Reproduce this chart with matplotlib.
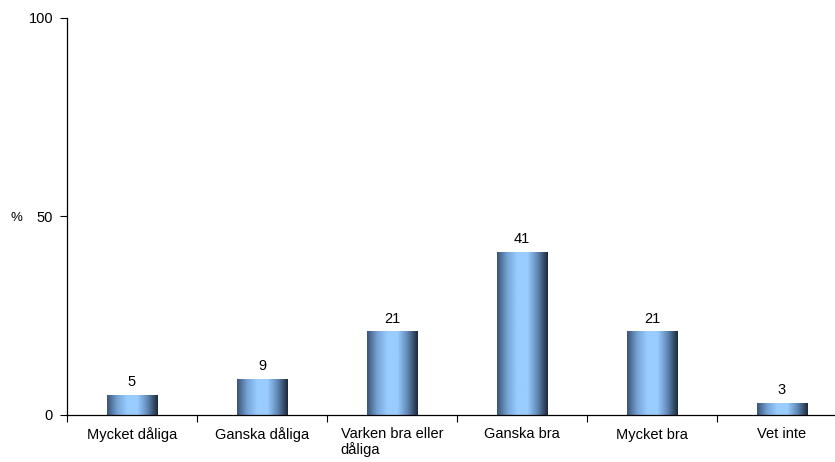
import numpy as np
import matplotlib.pyplot as plt
from matplotlib.colors import LinearSegmentedColormap

plt.rcParams['font.family'] = ['Liberation Sans', 'DejaVu Sans']

categories = ['Mycket dåliga', 'Ganska dåliga', 'Varken bra eller\ndåliga',
              'Ganska bra', 'Mycket bra', 'Vet inte']
values = [5, 9, 21, 41, 21, 3]

fs = 10.5

fig = plt.figure(figsize=(8.35, 4.62), dpi=100)
ax = fig.add_axes([67 / 835, 1 - 415 / 462, 780 / 835, 397 / 462])

# horizontal gradient: dark edges, light blue middle
cmap = LinearSegmentedColormap.from_list(
    'bar', ['#3a5274', '#76a3d6', '#99ccff', '#99ccff', '#5f86b4', '#1c2838'])
grad = np.linspace(0, 1, 256).reshape(1, -1)

x = np.arange(len(categories))
width = 0.39
for xi, v in zip(x, values):
    ax.imshow(grad, cmap=cmap, aspect='auto', interpolation='bilinear',
              extent=(xi - width / 2, xi + width / 2, 0, v), zorder=2)
    ax.text(xi, v + 1.5, str(v), ha='center', va='bottom', fontsize=fs)

ax.set_xlim(-0.5, len(categories) - 0.5)
ax.set_ylim(0, 100)

ax.set_xticks(x)
ax.set_xticklabels(categories, fontsize=fs, multialignment='left', linespacing=1.05)
ax.set_xticks(np.arange(len(categories) + 1) - 0.5, minor=True)
ax.tick_params(axis='x', which='major', length=0, pad=9)
ax.tick_params(axis='x', which='minor', length=5, direction='out', width=0.8)

ax.set_yticks([0, 50, 100])
ax.tick_params(axis='y', length=5, direction='out', width=0.8, labelsize=fs, pad=5)

ax.spines['top'].set_visible(False)
ax.spines['right'].set_visible(False)
for s in ['left', 'bottom']:
    ax.spines[s].set_linewidth(0.9)

fig.text(16 / 835, 1 - 218 / 462, '%', fontsize=fs - 1, ha='center', va='center')

fig.savefig('out.png', dpi=100)
